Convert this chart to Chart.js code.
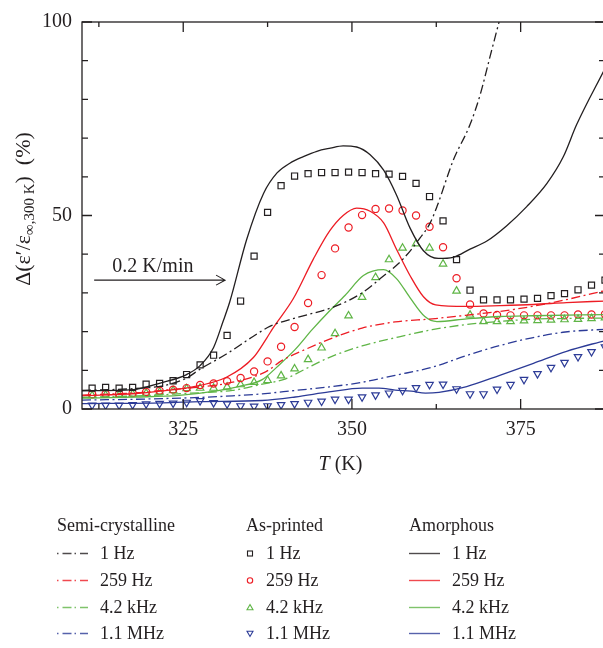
<!DOCTYPE html>
<html>
<head>
<meta charset="utf-8">
<script src="https://cdn.jsdelivr.net/npm/chart.js@4.4.1/dist/chart.umd.min.js"></script>
<style>
  html, body { margin: 0; padding: 0; background: #fff; overflow: hidden; }
  #wrap { position: relative; width: 603px; height: 648px; overflow: hidden; }
  #plot { position: absolute; left: 0; top: 0; }
  .leg { position: absolute; font-family: "Liberation Serif", serif; font-size: 18px; color: #231f20; line-height: 20px; white-space: nowrap; }
  .icon { position: absolute; }
</style>
</head>
<body>
<div id="wrap">
  <canvas id="plot" width="640" height="648"></canvas>
</div>
<script>
// Labels
const freqLabels = ['1 Hz', '259 Hz', '4.2 kHz', '1.1 MHz'];
const groupNames = ['Semi-crystalline', 'As-printed', 'Amorphous'];
const xTickLabels = [325, 350, 375];
const yTickLabels = [0, 50, 100];
const xMinorTicks = [312.5, 337.5, 362.5, 387.5];
const yMinorTicks = [10, 20, 30, 40, 60, 70, 80, 90];

// As-printed (open markers), all four frequencies share the temperatures
const printedT = [311.5, 313.5, 315.5, 317.5, 319.5, 321.5, 323.5, 325.5, 327.5, 329.5,
  331.5, 333.5, 335.5, 337.5, 339.5, 341.5, 343.5, 345.5, 347.5, 349.5,
  351.5, 353.5, 355.5, 357.5, 359.5, 361.5, 363.5, 365.5, 367.5, 369.5,
  371.5, 373.5, 375.5, 377.5, 379.5, 381.5, 383.5, 385.5, 387.5];
const printed1Hz = [5.4, 5.6, 5.4, 5.6, 6.4, 6.6, 7.3, 8.9, 11.4, 13.9,
  19.0, 27.9, 39.5, 50.8, 57.7, 60.2, 60.8, 61.1, 61.1, 61.2,
  61.1, 60.8, 60.7, 60.1, 58.3, 54.9, 48.6, 38.6, 30.7, 28.2,
  28.2, 28.2, 28.4, 28.6, 29.3, 29.8, 30.8, 32.0, 33.3];
const printed259Hz = [3.8, 3.9, 3.9, 4.1, 4.4, 4.7, 5.0, 5.4, 6.2, 6.6,
  7.2, 8.0, 9.7, 12.3, 16.1, 21.2, 27.4, 34.6, 41.5, 46.9,
  50.1, 51.7, 51.8, 51.3, 50.0, 47.1, 41.8, 33.8, 27.0, 24.7,
  24.3, 24.2, 24.2, 24.2, 24.2, 24.2, 24.4, 24.4, 24.5];
const printed4kHz = [3.5, 3.6, 3.7, 3.9, 4.1, 4.4, 4.8, 5.3, 5.4, 5.4,
  5.7, 6.3, 6.9, 7.4, 8.6, 10.4, 12.8, 15.8, 19.5, 24.1,
  28.9, 34.0, 38.6, 41.6, 42.7, 41.6, 37.5, 30.5, 24.3, 22.6,
  22.6, 22.6, 22.8, 22.9, 23.0, 23.1, 23.2, 23.4, 23.6];
const printed1MHz = [1.0, 1.0, 1.0, 1.1, 1.3, 1.4, 1.5, 1.7, 2.1, 1.6,
  1.3, 0.8, 0.7, 0.8, 1.1, 1.35, 1.7, 2.0, 2.5, 2.5,
  3.1, 3.6, 4.1, 4.8, 5.5, 6.3, 6.4, 5.2, 3.9, 3.9,
  5.1, 6.3, 7.6, 9.1, 10.7, 12.0, 13.5, 14.8, 16.0];

// Amorphous (solid lines)
const amorph1HzT = [310, 317.6, 321.6, 325.5, 327.5, 329.5, 330.9, 331.9, 334.4, 336.9,
  338.9, 340.8, 342.8, 344.8, 346.8, 348.7, 350.7, 352.7, 354.7, 356.6,
  358.6, 360.6, 362.8, 365.0, 367.5, 370.0, 372.9, 375.9, 378.9, 381.3, 383.3, 387.5];
const amorph1HzV = [4.7, 5.0, 6.7, 8.9, 11.2, 15.9, 22.6, 27.7, 43.8, 55.7,
  61.0, 63.5, 65.2, 66.6, 67.4, 68.0, 67.7, 65.7, 61.7, 55.3,
  46.8, 40.9, 38.9, 39.2, 41.3, 43.4, 47.3, 52.3, 58.3, 65.1, 73.5, 88.0];
const amorph259HzT = [310, 318, 321.6, 326, 331.4, 335.4, 337.4, 338.3, 341.3, 344.3,
  346.7, 348.7, 350.7, 352.7, 354.7, 356.6, 358.6, 360.6, 362.4, 366.9,
  371.9, 376.9, 381.8, 387.5];
const amorph259HzV = [3.4, 4.0, 4.6, 5.6, 8.2, 13.3, 18.4, 20.9, 28.5, 38.8,
  46.0, 50.0, 51.9, 51.1, 48.1, 41.3, 34.5, 29.0, 26.9, 26.5,
  26.7, 27.0, 27.5, 27.9];
const amorph4kHzT = [310, 318, 324.4, 329.7, 333.2, 336.7, 339.1, 341.6, 344.1, 346.6,
  349.0, 351.7, 354.7, 356.6, 358.6, 360.8, 362.6, 367.0, 371.9, 376.9, 387.5];
const amorph4kHzV = [2.8, 3.1, 3.5, 4.6, 5.8, 7.6, 11.2, 15.4, 20.5, 25.2,
  29.4, 34.5, 36.0, 33.7, 28.8, 23.9, 22.6, 23.3, 23.9, 24.1, 24.4];
const amorph1MHzT = [310, 322, 327.6, 336.7, 341.6, 346.6, 351.5, 354.0, 356.4, 358.8,
  360.9, 362.9, 367.0, 371.9, 376.9, 381.8, 387.5];
const amorph1MHzV = [1.4, 1.6, 1.9, 2.2, 3.1, 4.4, 5.4, 5.4, 4.9, 4.6,
  4.1, 4.3, 5.8, 8.7, 11.8, 14.9, 17.7];

// Semi-crystalline (dash-dot lines)
const semi1HzT = [310, 318, 322, 325.5, 327.5, 331.4, 335.4, 337.9, 341.6, 347.5,
  351.5, 354.2, 357.6, 360.1, 361.6, 362.6, 365.0, 367.5, 369.0, 370.5, 371.8];
const semi1HzV = [4.8, 5.3, 6.0, 8.0, 10.3, 14.2, 18.8, 21.4, 23.5, 26.5,
  30.0, 33.7, 38.8, 44.2, 48.1, 52.3, 64.2, 73.5, 81.2, 91.3, 100];
const semi259HzT = [310, 318, 323, 327, 331.4, 337.2, 339.6, 343.1, 346.6, 351.5,
  356.4, 361.9, 366.8, 371.8, 376.7, 381.6, 387.5];
const semi259HzV = [3.6, 4.2, 5.0, 5.6, 6.6, 9.6, 12.5, 15.4, 18.0, 20.9,
  22.5, 23.3, 24.2, 25.2, 26.5, 28.2, 30.6];
const semi4kHzT = [310, 320, 325, 332.3, 336.7, 340.2, 341.6, 344.1, 346.6, 351.5,
  356.4, 361.9, 366.8, 371.8, 376.7, 387.5];
const semi4kHzV = [3.0, 3.5, 4.0, 4.8, 6.4, 7.8, 9.0, 11.2, 13.3, 16.3,
  18.4, 20.5, 21.8, 22.6, 23.2, 23.5];
const semi1MHzT = [310, 320, 327.6, 332.3, 336.7, 341.6, 346.6, 351.5, 356.4, 361.9,
  366.8, 371.7, 376.7, 381.6, 387.5];
const semi1MHzV = [2.3, 2.6, 3.0, 3.4, 3.9, 4.8, 5.7, 6.9, 8.7, 10.8,
  13.7, 16.3, 18.4, 19.9, 20.6];

// Arrow annotation (data units)
const arrowFrom = [311.8, 33.3];
const arrowTo = [331.2, 33.3];
const arrowLabel = '0.2 K/min';
const arrowLabelAt = [314.5, 35.4];

const ink = '#231f20';
const colors = ['#231f20', '#ed1c24', '#5fb546', '#2c3b97'];
const dashDot = [9, 3.5, 2, 3.5];
const serif = '"Liberation Serif", serif';

function pts(xs, ys) {
    return xs.map((x, i) => ({ x: x, y: ys[i] }));
}

const semiSets = [[semi1HzT, semi1HzV], [semi259HzT, semi259HzV], [semi4kHzT, semi4kHzV], [semi1MHzT, semi1MHzV]];
const amorphSets = [[amorph1HzT, amorph1HzV], [amorph259HzT, amorph259HzV], [amorph4kHzT, amorph4kHzV], [amorph1MHzT, amorph1MHzV]];
const printedSets = [printed1Hz, printed259Hz, printed4kHz, printed1MHz];
const markerStyles = [
    { pointStyle: 'rect', radius: 4.3, rotation: 0 },
    { pointStyle: 'circle', radius: 3.6, rotation: 0 },
    { pointStyle: 'triangle', radius: 4.3, rotation: 0 },
    { pointStyle: 'triangle', radius: 4.3, rotation: 180 }
];

const datasets = [];
semiSets.forEach((s, i) => datasets.push({
    label: groupNames[0] + ' ' + freqLabels[i],
    data: pts(s[0], s[1]),
    showLine: true,
    borderColor: colors[i],
    borderWidth: 1.3,
    borderDash: dashDot,
    pointRadius: 0,
    cubicInterpolationMode: 'monotone'
}));
amorphSets.forEach((s, i) => datasets.push({
    label: groupNames[2] + ' ' + freqLabels[i],
    data: pts(s[0], s[1]),
    showLine: true,
    borderColor: colors[i],
    borderWidth: 1.3,
    pointRadius: 0,
    cubicInterpolationMode: 'monotone'
}));
printedSets.forEach((vals, i) => datasets.push({
    label: groupNames[1] + ' ' + freqLabels[i],
    data: pts(printedT, vals),
    showLine: false,
    pointStyle: markerStyles[i].pointStyle,
    pointRadius: markerStyles[i].radius,
    rotation: markerStyles[i].rotation,
    pointBorderColor: colors[i],
    pointBackgroundColor: 'rgba(0,0,0,0)',
    pointBorderWidth: 1.2
}));

// Frame, inward ticks, axis titles and the rate arrow
const decorations = {
    id: 'decorations',
    afterDraw(chart) {
        const { ctx, chartArea: a, scales: { x, y } } = chart;
        ctx.save();
        ctx.strokeStyle = ink;
        ctx.lineWidth = 1.3;
        ctx.strokeRect(a.left, a.top, a.right - a.left, a.bottom - a.top);

        ctx.beginPath();
        const tickX = (v, len) => {
            const px = x.getPixelForValue(v);
            ctx.moveTo(px, a.bottom); ctx.lineTo(px, a.bottom - len);
            ctx.moveTo(px, a.top); ctx.lineTo(px, a.top + len);
        };
        const tickY = (v, len) => {
            const py = y.getPixelForValue(v);
            ctx.moveTo(a.left, py); ctx.lineTo(a.left + len, py);
            ctx.moveTo(a.right, py); ctx.lineTo(a.right - len, py);
        };
        xTickLabels.forEach(v => tickX(v, 10));
        xMinorTicks.forEach(v => tickX(v, 5));
        yTickLabels.forEach(v => tickY(v, 10));
        yMinorTicks.forEach(v => tickY(v, 6));
        ctx.stroke();

        // arrow
        const x0 = x.getPixelForValue(arrowFrom[0]), y0 = y.getPixelForValue(arrowFrom[1]);
        const x1 = x.getPixelForValue(arrowTo[0]), y1 = y.getPixelForValue(arrowTo[1]);
        ctx.lineWidth = 1.1;
        ctx.beginPath();
        ctx.moveTo(x0, y0); ctx.lineTo(x1, y1);
        ctx.moveTo(x1 - 9, y1 - 5); ctx.lineTo(x1, y1); ctx.lineTo(x1 - 9, y1 + 5);
        ctx.stroke();

        ctx.fillStyle = ink;
        ctx.textBaseline = 'alphabetic';
        ctx.textAlign = 'left';
        ctx.font = '20px ' + serif;
        ctx.fillText(arrowLabel, x.getPixelForValue(arrowLabelAt[0]), y.getPixelForValue(arrowLabelAt[1]));

        // x title: italic T
        const mainFont = '20px ' + serif;
        const italFont = 'italic 20px ' + serif;
        ctx.font = italFont;
        const wT = ctx.measureText('T').width;
        ctx.font = mainFont;
        const wRest = ctx.measureText(' (K)').width;
        const cx = (a.left + 603) / 2 - 2;
        let sx = cx - (wT + wRest) / 2;
        ctx.font = italFont;
        ctx.fillText('T', sx, 470);
        ctx.font = mainFont;
        ctx.fillText(' (K)', sx + wT, 470);

        // y title with subscript
        const yMain = '22px ' + serif;
        const subFont = '15px ' + serif;
        const parts = [['Δ(ε′/ε', yMain, 0], ['∞,300 K', subFont, 4], [')  (%)', yMain, 0]];
        let total = 0;
        parts.forEach(p => { ctx.font = p[1]; total += ctx.measureText(p[0]).width; });
        ctx.translate(30, 209);
        ctx.rotate(-Math.PI / 2);
        let px = -total / 2;
        parts.forEach(p => {
            ctx.font = p[1];
            ctx.fillText(p[0], px, p[2]);
            px += ctx.measureText(p[0]).width;
        });
        ctx.restore();
    }
};

const ctx = document.getElementById('plot').getContext('2d');
new Chart(ctx, {
    type: 'scatter',
    data: { datasets: datasets },
    options: {
        responsive: false,
        animation: false,
        layout: { padding: { left: 0, top: 15, right: 35, bottom: 199 } },
        plugins: { legend: { display: false }, tooltip: { enabled: false } },
        scales: {
            x: {
                type: 'linear',
                min: 310,
                max: 387.5,
                grid: { display: false, drawTicks: false },
                border: { display: false },
                afterBuildTicks: s => { s.ticks = xTickLabels.map(v => ({ value: v })); },
                afterFit: s => { s.height = 40; },
                ticks: { padding: 9, color: ink, font: { family: serif, size: 20 } }
            },
            y: {
                min: 0,
                max: 100,
                grid: { display: false, drawTicks: false },
                border: { display: false },
                afterBuildTicks: s => { s.ticks = yTickLabels.map(v => ({ value: v })); },
                afterFit: s => { s.width = 82; },
                ticks: { padding: 10, color: ink, font: { family: serif, size: 20 } }
            }
        }
    },
    plugins: [decorations]
});

// Legend below the plot
const wrap = document.getElementById('wrap');
const colLeft = [57, 246, 409];
const textLeft = [100, 266, 452];
const rowTop = [515, 543, 570, 597, 623];

function addText(txt, left, top) {
    const d = document.createElement('div');
    d.className = 'leg';
    d.style.left = left + 'px';
    d.style.top = top + 'px';
    d.textContent = txt;
    wrap.appendChild(d);
}

function addIcon(kind, i, left, top) {
    const ns = 'http://www.w3.org/2000/svg';
    const svg = document.createElementNS(ns, 'svg');
    svg.setAttribute('class', 'icon');
    svg.setAttribute('width', '34');
    svg.setAttribute('height', '20');
    svg.style.left = left + 'px';
    svg.style.top = top + 'px';
    let el;
    if (kind === 'line' || kind === 'dash') {
        el = document.createElementNS(ns, 'line');
        el.setAttribute('x1', '0'); el.setAttribute('x2', '31');
        el.setAttribute('y1', '10.5'); el.setAttribute('y2', '10.5');
        el.setAttribute('stroke-width', '1.4');
        if (kind === 'dash') el.setAttribute('stroke-dasharray', '1.5 4 9 3');
    } else if (i === 0) {
        el = document.createElementNS(ns, 'rect');
        el.setAttribute('x', '1.5'); el.setAttribute('y', '8'); el.setAttribute('width', '5'); el.setAttribute('height', '5');
    } else if (i === 1) {
        el = document.createElementNS(ns, 'circle');
        el.setAttribute('cx', '4'); el.setAttribute('cy', '10.5'); el.setAttribute('r', '2.7');
    } else if (i === 2) {
        el = document.createElementNS(ns, 'polygon');
        el.setAttribute('points', '4,7.5 7,12.8 1,12.8');
    } else {
        el = document.createElementNS(ns, 'polygon');
        el.setAttribute('points', '1,8.2 7,8.2 4,13.5');
    }
    el.setAttribute('stroke', colors[i]);
    if (kind === 'line' || kind === 'dash') {
        el.setAttribute('opacity', '0.8');
    } else {
        el.setAttribute('fill', 'none');
        el.setAttribute('stroke-width', '1.1');
    }
    svg.appendChild(el);
    wrap.appendChild(svg);
}

groupNames.forEach((g, c) => addText(g, colLeft[c], rowTop[0]));
freqLabels.forEach((f, i) => {
    addIcon('dash', i, colLeft[0], rowTop[i + 1]);
    addText(f, textLeft[0], rowTop[i + 1]);
    addIcon('marker', i, colLeft[1], rowTop[i + 1]);
    addText(f, textLeft[1], rowTop[i + 1]);
    addIcon('line', i, colLeft[2], rowTop[i + 1]);
    addText(f, textLeft[2], rowTop[i + 1]);
});
</script>
</body>
</html>
